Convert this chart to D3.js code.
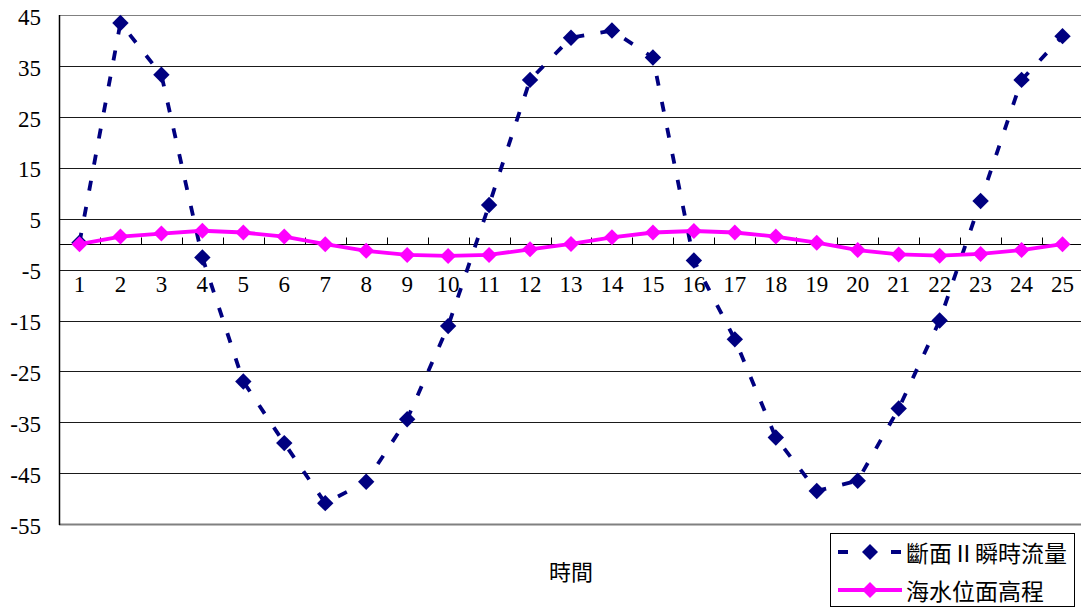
<!DOCTYPE html>
<html>
<head>
<meta charset="utf-8">
<script src="https://cdn.jsdelivr.net/npm/d3@7/dist/d3.min.js"></script>
<style>
  html, body { margin: 0; padding: 0; background: #fff; }
  svg { display: block; }
  .num { font-family: "Times New Roman", "Liberation Serif", "DejaVu Serif", serif; font-size: 23px; fill: #000; }
  .cjk { font-family: "Noto Sans CJK TC", "Noto Sans CJK SC", sans-serif; font-size: 22px; fill: #000; }
</style>
</head>
<body>
<svg id="chart" width="1081" height="608"></svg>
<script>
// Hours along the x axis
const hours = d3.range(1, 26);
// 斷面II瞬時流量 (flow through section II)
const flowValues = [0.3, 43.5, 33.3, -2.6, -27.0, -39.1, -50.9, -46.7, -34.4, -16.1,
                    7.7, 32.3, 40.6, 42.0, 36.7, -3.2, -18.7, -38.0, -48.5, -46.5,
                    -32.3, -15.0, 8.5, 32.3, 40.9];
// 海水位面高程 (sea surface elevation)
const levelValues = [0.0, 1.5, 2.1, 2.65, 2.3, 1.5, 0.0, -1.3, -2.1, -2.3,
                     -2.1, -1.0, 0.05, 1.35, 2.3, 2.6, 2.3, 1.5, 0.3, -1.15,
                     -2.0, -2.25, -1.9, -1.15, 0.0];
// Value-axis tick labels
const yTicks = [45, 35, 25, 15, 5, -5, -15, -25, -35, -45, -55];
const seriesNames = ["斷面Ⅱ瞬時流量", "海水位面高程"];
const axisTitle = "時間";

(function () {
  const svg = d3.select("#chart");
  const plotL = 59, plotR = 1083, plotT = 15.3, plotB = 524;

  const x = d3.scaleBand().domain(hours).range([plotL, plotR]);
  const cx = d => x(d) + x.bandwidth() / 2;
  const y = d3.scaleLinear().domain([-55, 45]).range([plotB, plotT]);

  // Horizontal gridlines
  svg.append("g").selectAll("line").data(yTicks).join("line")
    .attr("x1", plotL).attr("x2", 1081)
    .attr("y1", d => Math.round(y(d)) + 0.5).attr("y2", d => Math.round(y(d)) + 0.5)
    .attr("stroke", d => (d === 45 || d === -55) ? "#808080" : "#1a1a1a")
    .attr("stroke-width", d => (d === -55) ? 2 : 1);

  // Value axis line and labels
  svg.append("line")
    .attr("x1", plotL + 0.5).attr("x2", plotL + 0.5)
    .attr("y1", Math.round(y(45))).attr("y2", Math.round(y(-55)) + 1)
    .attr("stroke", "#000").attr("stroke-width", 1.5);

  svg.append("g").selectAll("text").data(yTicks).join("text")
    .attr("class", "num")
    .attr("x", 41).attr("y", d => y(d) + 2)
    .attr("text-anchor", "end")
    .attr("dominant-baseline", "central")
    .text(d => d);

  // Category axis on the zero line, ticks pointing up, labels below
  const y0 = Math.round(y(0)) + 0.5;
  svg.append("line")
    .attr("x1", plotL).attr("x2", 1081)
    .attr("y1", y0).attr("y2", y0)
    .attr("stroke", "#000").attr("stroke-width", 1.2);

  svg.append("g").selectAll("line").data(hours.slice(1)).join("line")
    .attr("x1", d => Math.round(x(d)) + 0.5).attr("x2", d => Math.round(x(d)) + 0.5)
    .attr("y1", y0).attr("y2", y0 - 7)
    .attr("stroke", "#000").attr("stroke-width", 1);

  svg.append("g").selectAll("text").data(hours).join("text")
    .attr("class", "num")
    .attr("x", d => cx(d)).attr("y", 284)
    .attr("text-anchor", "middle")
    .attr("dominant-baseline", "central")
    .text(d => d);

  svg.append("text")
    .attr("class", "cjk")
    .attr("x", 571).attr("y", 570)
    .attr("text-anchor", "middle")
    .attr("dominant-baseline", "central")
    .text(axisTitle);

  const line = d3.line().x((d, i) => cx(hours[i])).y(d => y(d));
  const diamond = (s) => `M0,${-s}L${s},0L0,${s}L${-s},0Z`;

  // Flow series: navy dashed line with diamond markers
  svg.append("path")
    .datum(flowValues)
    .attr("d", line)
    .attr("fill", "none")
    .attr("stroke", "#000080")
    .attr("stroke-width", 3.8)
    .attr("stroke-dasharray", "10,16.5");

  svg.append("g").selectAll("path").data(flowValues).join("path")
    .attr("transform", (d, i) => `translate(${cx(hours[i])},${y(d)})`)
    .attr("d", diamond(8.2))
    .attr("fill", "#000080");

  // Sea level series: magenta solid line with diamond markers
  svg.append("path")
    .datum(levelValues)
    .attr("d", line)
    .attr("fill", "none")
    .attr("stroke", "#FF00FF")
    .attr("stroke-width", 3.8);

  svg.append("g").selectAll("path").data(levelValues).join("path")
    .attr("transform", (d, i) => `translate(${cx(hours[i])},${y(d)})`)
    .attr("d", diamond(8))
    .attr("fill", "#FF00FF");

  // Legend
  const lg = svg.append("g");
  lg.append("rect")
    .attr("x", 830.5).attr("y", 533.5).attr("width", 244).attr("height", 73)
    .attr("fill", "#fff").attr("stroke", "#000").attr("stroke-width", 1);

  const rows = [
    { name: seriesNames[0], color: "#000080", dash: "10,16.5", y: 552, size: 8 },
    { name: seriesNames[1], color: "#FF00FF", dash: null, y: 590, size: 8 }
  ];
  rows.forEach(r => {
    lg.append("line")
      .attr("x1", 838).attr("x2", 902).attr("y1", r.y).attr("y2", r.y)
      .attr("stroke", r.color).attr("stroke-width", 3.8)
      .attr("stroke-dasharray", r.dash);
    lg.append("path")
      .attr("transform", `translate(870,${r.y})`)
      .attr("d", diamond(r.size))
      .attr("fill", r.color);
    lg.append("text")
      .attr("class", "cjk")
      .attr("x", 906).attr("y", r.y)
      .attr("dominant-baseline", "central")
      .style("font-size", "23px")
      .text(r.name);
  });
})();
</script>
</body>
</html>
